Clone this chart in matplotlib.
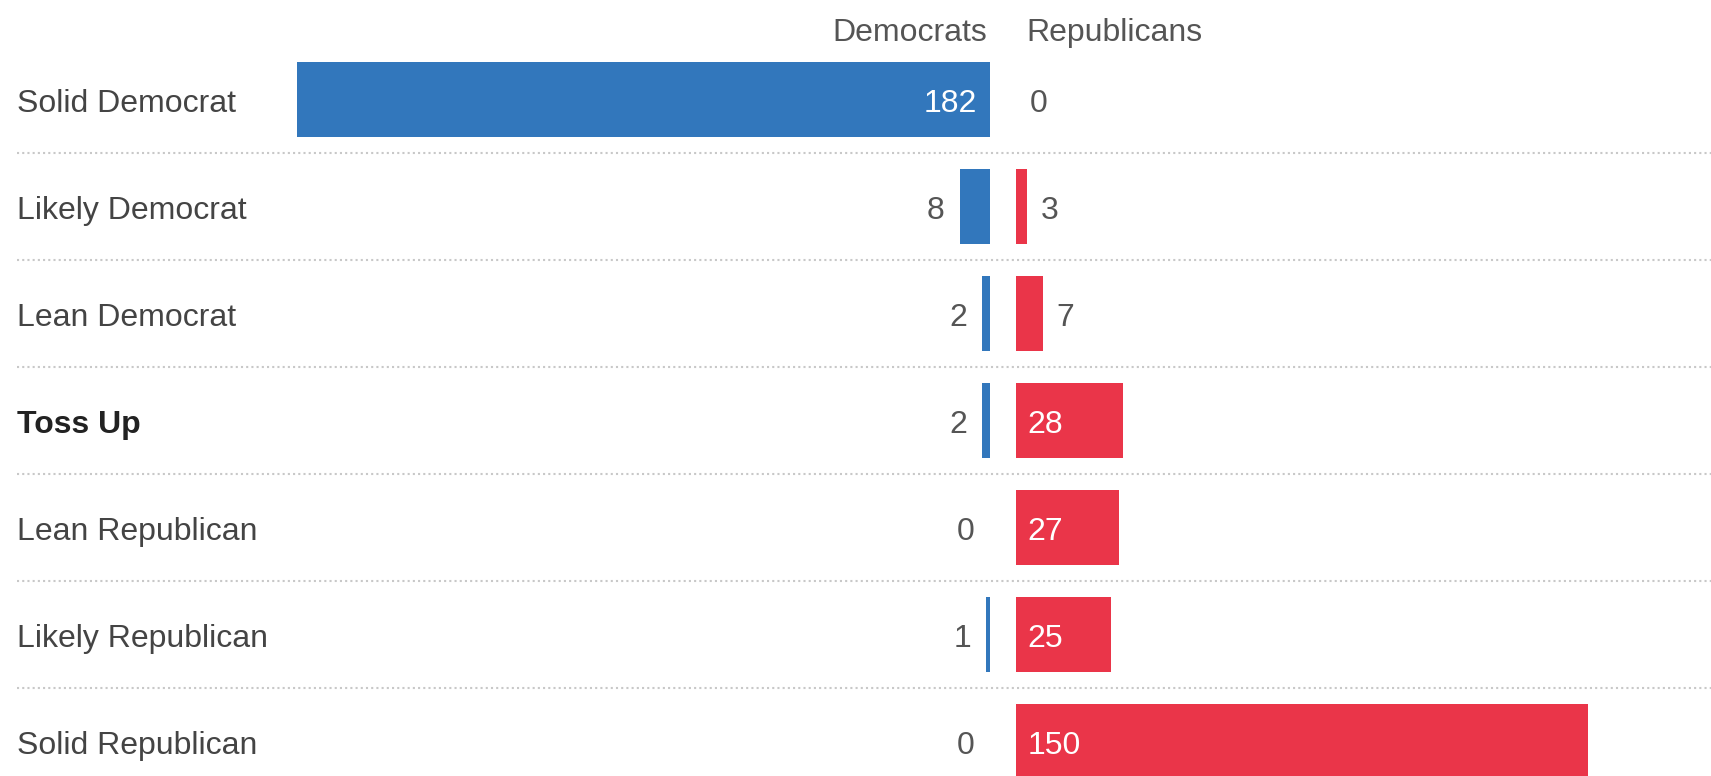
import matplotlib.pyplot as plt
import numpy as np

categories = ['Solid Democrat', 'Likely Democrat', 'Lean Democrat', 'Toss Up',
              'Lean Republican', 'Likely Republican', 'Solid Republican']
democrats = [182, 8, 2, 2, 0, 1, 0]
republicans = [0, 3, 7, 28, 27, 25, 150]

BLUE = '#3277bc'
RED = '#ea3549'
plt.rcParams['font.family'] = ['Liberation Sans', 'DejaVu Sans']

W, H = 1711, 776
px_per_unit = 3.81
row_px = 107
first_row = 99.3
zero_d, zero_r = 990, 1016
FS = 23
dy = 0.04  # text sits a touch below bar centre

fig = plt.figure(figsize=(W / 100, H / 100), dpi=100)
ylim = ((H - first_row) / row_px, -first_row / row_px)

# background axes in pixel x for separators and category labels
bg = fig.add_axes([0, 0, 1, 1])
bg.set_xlim(0, W)
bg.set_ylim(*ylim)
bg.axis('off')
for i in range(len(categories) - 1):
    bg.plot([17, W], [i + 0.5, i + 0.5], color='#c8c8c8', lw=1.5,
            linestyle=(0, (1, 1.5)))
for i, c in enumerate(categories):
    bold = c == 'Toss Up'
    bg.text(17, i + dy, c, ha='left', va='center', fontsize=FS,
            color='#222222' if bold else '#444444',
            fontweight='bold' if bold else 'normal')
hy = (29 - first_row) / row_px + dy
bg.text(zero_d - 3, hy, 'Democrats', ha='right', va='center', fontsize=FS, color='#555555')
bg.text(zero_r + 10, hy, 'Republicans', ha='left', va='center', fontsize=FS, color='#555555')

y = np.arange(len(categories))
ax_d = fig.add_axes([0, 0, zero_d / W, 1])
ax_d.patch.set_alpha(0)
ax_d.set_xlim(zero_d / px_per_unit, 0)
ax_d.set_ylim(*ylim)
ax_d.axis('off')
ax_d.barh(y, democrats, height=0.70, color=BLUE)

ax_r = fig.add_axes([zero_r / W, 0, (W - zero_r) / W, 1])
ax_r.patch.set_alpha(0)
ax_r.set_xlim(0, (W - zero_r) / px_per_unit)
ax_r.set_ylim(*ylim)
ax_r.axis('off')
ax_r.barh(y, republicans, height=0.70, color=RED)

for i, v in enumerate(democrats):
    if v >= 20:
        ax_d.text(3.4, i + dy, str(v), ha='right', va='center', fontsize=FS, color='white')
    else:
        ax_d.text(v + 4, i + dy, str(v), ha='right', va='center', fontsize=FS, color='#555555')

for i, v in enumerate(republicans):
    if v >= 20:
        ax_r.text(3.0, i + dy, str(v), ha='left', va='center', fontsize=FS, color='white')
    else:
        ax_r.text(v + 3.5, i + dy, str(v), ha='left', va='center', fontsize=FS, color='#555555')

fig.savefig('out.png', dpi=100, facecolor='white')
